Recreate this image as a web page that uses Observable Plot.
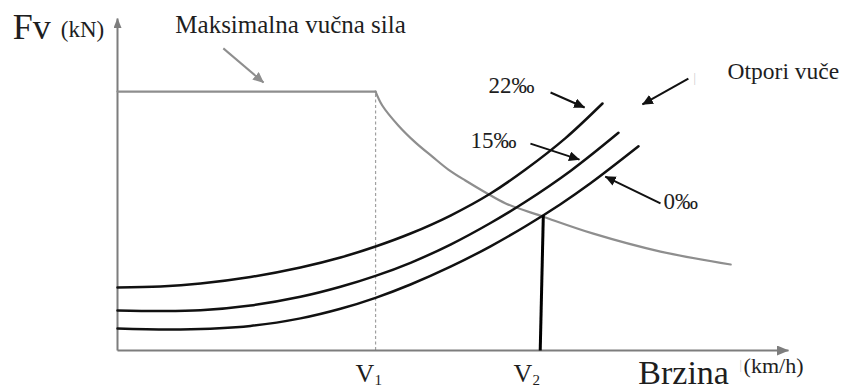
<!DOCTYPE html>
<html>
<head>
<meta charset="utf-8">
<script src="https://cdn.jsdelivr.net/npm/d3@7"></script>
<script src="https://cdn.jsdelivr.net/npm/@observablehq/plot@0.6"></script>
<style>
  html, body { margin: 0; padding: 0; background: #fff; }
  #chart { width: 844px; height: 391px; }
</style>
</head>
<body>
<div id="chart"></div>
<script>
// ---- data (speed in km/h, force in kN; schematic units) ----
const grades = ["22‰", "15‰", "0‰"];
const vRes = [0, 8.33, 16.08, 25.77, 35.45, 43.20, 49.99, 56.77, 64.52, 72.27, 79.05];
const v22 = [...vRes, 86.80, 93.96];
const f22 = [18.98, 19.28, 20.18, 22.14, 25.00, 28.01, 31.33, 35.24, 40.66, 47.29, 54.52, 63.98, 74.40];
const v15 = [...vRes, 87.76, 97.06];
const f15 = [12.05, 11.87, 12.11, 13.55, 16.17, 19.19, 22.47, 26.42, 31.90, 38.40, 44.79, 54.07, 65.57];
const v0  = [0, 12.21, 25.77, 35.45, 43.20, 49.99, 56.77, 64.52, 72.27, 79.05, 85.83, 91.64, 100.94];
const f0  = [6.63, 6.36, 7.41, 9.67, 12.56, 15.87, 19.88, 25.24, 31.39, 37.44, 44.07, 50.36, 61.51];
const Fmax = 78;           // maksimalna vučna sila (flat part)
const V1 = 50;             // end of constant force
const V2 = 82.5;           // balance speed on 0‰
const V2foot = 81.9;
const F2 = 40.8;
const vHyp = [50, 51.3, 54.4, 57.7, 61.0, 64.1, 67.4, 71.3, 75.2, 82.5, 92.2, 105.2, 118.8];
const fHyp = [78, 73.8, 67.8, 62.7, 58.4, 54.5, 51.2, 47.6, 44.3, 40.3, 35.2, 29.8, 25.9];
const xMax = 130, yMax = 100;

const titleY = "Fv", unitY = "(kN)";
const titleX = "Brzina", unitX = "(km/h)";
const maxLabel = "Maksimalna vučna sila";
const resLabel = "Otpori vuče";

// ---- tables ----
const resistance = [
  ...v22.map((v, i) => ({grade: grades[0], v, f: f22[i]})),
  ...v15.map((v, i) => ({grade: grades[1], v, f: f15[i]})),
  ...v0.map((v, i) => ({grade: grades[2], v, f: f0[i]}))
];
const traction = [
  {seg: "flat", v: 0, f: Fmax}, {seg: "flat", v: V1, f: Fmax},
  ...vHyp.map((v, i) => ({seg: "hyp", v, f: fHyp[i]}))
];

// filled triangular marker
function tri(len, wid) {
  return function (color, context) {
    const doc = (context && context.document) || document;
    const ns = "http://www.w3.org/2000/svg";
    const m = doc.createElementNS(ns, "marker");
    m.setAttribute("viewBox", `0 ${-wid / 2} ${len} ${wid}`);
    m.setAttribute("markerWidth", len);
    m.setAttribute("markerHeight", wid);
    m.setAttribute("markerUnits", "userSpaceOnUse");
    m.setAttribute("refX", len - 0.5);
    m.setAttribute("refY", 0);
    m.setAttribute("orient", "auto");
    const p = doc.createElementNS(ns, "path");
    p.setAttribute("d", `M0,${-wid / 2}L${len},0L0,${wid / 2}Z`);
    p.setAttribute("fill", color);
    p.setAttribute("stroke", "none");
    m.appendChild(p);
    return m;
  };
}

const axisGrey = "#7d7d7d";
const lineGrey = "#8e8e8e";
const ink = "#111";
const txt = "#1e1e1e";
const font = "'Liberation Serif', 'Times New Roman', serif";

function label(text, x, y, size, opts = {}) {
  return Plot.text([text], {x: () => x, y: () => y, text: d => d, fontSize: size,
    fill: txt, textAnchor: "start", lineAnchor: "bottom", fontFamily: font, ...opts});
}

const chart = Plot.plot({
  width: 844,
  height: 391,
  x: {domain: [0, xMax], range: [117, 788], axis: null},
  y: {domain: [0, yMax], range: [350, 18], axis: null},
  style: {background: "#fff", fontFamily: font},
  marks: [
    // V1 dashed guide
    Plot.ruleX([V1], {y1: 0, y2: Fmax, stroke: "#a0a0a0", strokeWidth: 1.2, strokeDasharray: "3,2.5"}),
    // axes with arrowheads
    Plot.link([0], {x1: 0, y1: 0, x2: xMax, y2: 0, stroke: axisGrey, strokeWidth: 2, markerEnd: tri(12, 10)}),
    Plot.link([0], {x1: 0, y1: 0, x2: 0, y2: yMax, stroke: axisGrey, strokeWidth: 2, markerEnd: tri(10, 8)}),
    // maximum traction force
    Plot.line(traction, {x: "v", y: "f", z: "seg", stroke: lineGrey, strokeWidth: 2.2, curve: "catmull-rom"}),
    // resistance curves
    Plot.line(resistance, {x: "v", y: "f", z: "grade", stroke: ink, strokeWidth: 2.5, curve: "catmull-rom"}),
    // V2 line
    Plot.link([0], {x1: V2foot, y1: 0, x2: V2, y2: F2, stroke: "#000", strokeWidth: 3}),
    // pointer arrows
    Plot.link([0], {x1: 20.5, y1: 91.0, x2: 28.3, y2: 80.7, stroke: lineGrey, strokeWidth: 2, markerEnd: tri(11, 10)}),
    Plot.link([0], {x1: 83.9, y1: 77.7, x2: 90.5, y2: 73.2, stroke: ink, strokeWidth: 2, markerEnd: tri(11, 10)}),
    Plot.link([0], {x1: 80.0, y1: 62.3, x2: 89.5, y2: 57.5, stroke: ink, strokeWidth: 2, markerEnd: tri(11, 10)}),
    Plot.link([0], {x1: 105.2, y1: 44.3, x2: 94.5, y2: 52.4, stroke: ink, strokeWidth: 2, markerEnd: tri(11, 10)}),
    Plot.link([0], {x1: 110.6, y1: 81.9, x2: 101.7, y2: 74.1, stroke: ink, strokeWidth: 2, markerEnd: tri(11, 10)}),
    // texts
    label(titleY, -20.3, 93.7, 36),
    label(unitY, -11.0, 94.3, 23),
    label(maxLabel, 11.2, 95.5, 25),
    label(resLabel, 118.2, 81.9, 23.5),
    label("|", 111.6, 80.9, 12, {fill: "#c8c8c8"}),
    label(grades[0], 71.9, 77.7, 23),
    label(grades[1], 68.4, 61.1, 23),
    label(grades[2], 105.8, 42.5, 23),
    label("V", 46.1, -9.6, 26),
    label("1", 49.8, -10.5, 15),
    label("V", 76.7, -9.6, 26),
    label("2", 80.4, -10.5, 15),
    label(titleX, 100.9, -10.2, 34),
    label("|", 120.5, -5.7, 12, {fill: "#c8c8c8"}),
    label(unitX, 121.3, -6.9, 22)
  ]
});
document.getElementById("chart").appendChild(chart);
</script>
</body>
</html>
